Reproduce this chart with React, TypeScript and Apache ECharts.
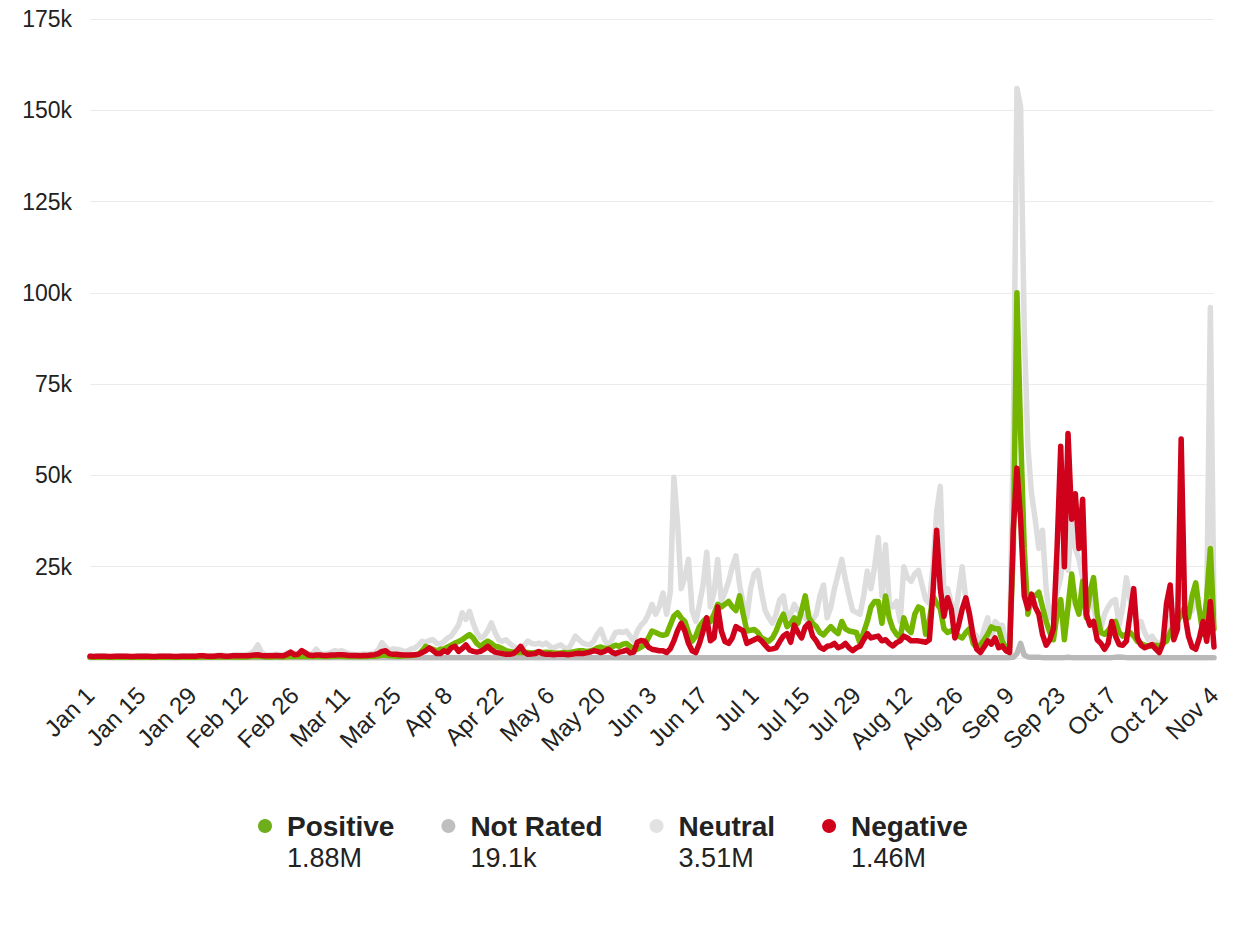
import React, { useEffect, useRef } from "react";
import * as echarts from "echarts";

const FONT = '"Liberation Sans", Arial, Helvetica, sans-serif';

const seriesNames = ["Positive", "Not Rated", "Neutral", "Negative"];
const lineColors = ["#74b500", "#b9b9b9", "#dddddd", "#d0021b"];
const legendDotColors = ["#6dae1a", "#bfbfbf", "#e2e2e2", "#d0021b"];
const legendTotals = ["1.88M", "19.1k", "3.51M", "1.46M"];
const drawOrder = [4, 3, 2, 5];

const monthNames = ["Jan", "Feb", "Mar", "Apr", "May", "Jun", "Jul", "Aug", "Sep", "Oct", "Nov", "Dec"];
const startYear = 2024;
const labelStep = 14;
const yMax = 175;
const yStep = 25;

// values in thousands, one row = 14 days
const positive = [
  0.2, 0.2, 0.2, 0.2, 0.2, 0.2, 0.2, 0.2, 0.2, 0.2, 0.2, 0.2, 0.2, 0.2,
  0.2, 0.2, 0.2, 0.2, 0.2, 0.2, 0.2, 0.3, 0.2, 0.2, 0.2, 0.2, 0.3, 0.2,
  0.3, 0.2, 0.3, 0.3, 0.3, 0.2, 0.3, 0.3, 0.3, 0.3, 0.3, 0.3, 0.3, 0.3,
  0.3, 0.3, 0.4, 0.4, 0.5, 0.4, 0.3, 0.3, 0.3, 0.4, 0.3, 0.3, 0.4, 0.5,
  0.4, 0.4, 0.5, 0.4, 0.4, 0.4, 0.5, 0.4, 0.4, 0.4, 0.4, 0.5, 0.5, 0.5,
  0.4, 0.4, 0.4, 0.4, 0.4, 0.4, 0.4, 0.5, 0.5, 0.6, 0.8, 0.8, 0.6, 0.6,
  0.5, 0.5, 0.6, 0.6, 0.7, 0.8, 1.0, 2.0, 3.2, 2.6, 2.4, 2.0, 2.4, 2.5,
  3.0, 3.5, 4.1, 4.5, 5.0, 5.8, 6.4, 5.5, 4.0, 3.2, 4.0, 4.6, 4.0, 3.2,
  3.0, 2.6, 2.0, 1.8, 1.6, 1.5, 1.5, 1.6, 1.5, 1.4, 1.5, 1.6, 1.5, 1.6,
  1.5, 1.4, 1.3, 1.4, 1.5, 1.4, 1.6, 1.8, 2.0, 2.0, 1.8, 1.9, 2.2, 2.8,
  3.0, 2.6, 2.6, 3.0, 3.5, 3.2, 3.8, 4.0, 3.2, 2.6, 2.4, 3.0, 3.6, 5.5,
  7.4, 7.0, 6.5, 6.2, 6.5, 9.0, 11.5, 12.4, 11.0, 10.0, 7.0, 4.6, 6.0, 8.6,
  10, 11, 10, 12, 14.7, 14, 14.7, 15.5, 14, 13, 17, 12, 7.4, 7.6,
  7.8, 7, 5.5, 5, 4.6, 5.5, 7.4, 10, 12, 8.6, 9.5, 11, 9.5, 13,
  17, 11, 9.5, 8.6, 7, 6.3, 7.5, 8.6, 7.5, 6.7, 10, 8, 7.4, 7.2,
  7, 4, 7, 10, 14, 15.5, 15.5, 9.5, 17, 11, 8, 6.5, 5.5, 11,
  8, 7, 12, 14, 13.5, 6.5, 10, 17, 15, 13.5, 8, 7, 7.5, 7.3,
  6, 5.5, 7, 8, 4, 2.8, 3.6, 5, 6.5, 8.5, 8, 8, 4.5, 2.8,
  3, 30, 100, 62, 30, 12, 17, 17, 18, 14, 10, 7, 5, 12,
  16, 5, 14, 23, 15, 12, 21, 11, 18, 22, 12, 7, 6.5, 7.5,
  9, 10, 7, 6, 6.5, 7, 6, 4.5, 4, 3.5, 3.3, 3.3, 3.5, 3.3,
  4, 4.6, 7, 9, 10, 12, 14, 11, 17, 20.6, 13, 6.5, 16.5, 30,
  8,
];

const notRated = [
  0.05, 0.05, 0.05, 0.05, 0.05, 0.05, 0.05, 0.05, 0.05, 0.05, 0.05, 0.05, 0.05, 0.05,
  0.05, 0.05, 0.05, 0.05, 0.05, 0.05, 0.05, 0.05, 0.05, 0.05, 0.05, 0.05, 0.05, 0.05,
  0.05, 0.05, 0.05, 0.05, 0.05, 0.05, 0.05, 0.05, 0.05, 0.05, 0.05, 0.05, 0.05, 0.05,
  0.05, 0.05, 0.05, 0.05, 0.05, 0.05, 0.05, 0.05, 0.05, 0.05, 0.05, 0.05, 0.05, 0.05,
  0.05, 0.05, 0.05, 0.05, 0.05, 0.05, 0.05, 0.05, 0.05, 0.05, 0.05, 0.05, 0.05, 0.05,
  0.05, 0.05, 0.05, 0.05, 0.05, 0.05, 0.05, 0.05, 0.05, 0.05, 0.05, 0.05, 0.05, 0.05,
  0.05, 0.05, 0.05, 0.05, 0.05, 0.05, 0.05, 0.05, 0.05, 0.05, 0.05, 0.05, 0.05, 0.05,
  0.05, 0.05, 0.05, 0.05, 0.05, 0.05, 0.05, 0.05, 0.05, 0.05, 0.05, 0.05, 0.05, 0.05,
  0.05, 0.05, 0.05, 0.05, 0.05, 0.05, 0.05, 0.05, 0.05, 0.05, 0.05, 0.05, 0.05, 0.05,
  0.05, 0.05, 0.05, 0.05, 0.05, 0.05, 0.05, 0.05, 0.05, 0.05, 0.05, 0.05, 0.05, 0.05,
  0.05, 0.05, 0.05, 0.05, 0.05, 0.05, 0.05, 0.05, 0.05, 0.05, 0.05, 0.05, 0.05, 0.05,
  0.06, 0.06, 0.06, 0.06, 0.06, 0.06, 0.08, 0.08, 0.06, 0.06, 0.06, 0.06, 0.06, 0.06,
  0.06, 0.06, 0.06, 0.06, 0.08, 0.06, 0.06, 0.06, 0.06, 0.06, 0.06, 0.06, 0.06, 0.06,
  0.06, 0.06, 0.06, 0.06, 0.06, 0.06, 0.06, 0.06, 0.06, 0.06, 0.06, 0.06, 0.06, 0.06,
  0.06, 0.06, 0.06, 0.06, 0.06, 0.06, 0.06, 0.06, 0.06, 0.06, 0.06, 0.06, 0.06, 0.06,
  0.06, 0.06, 0.06, 0.06, 0.06, 0.08, 0.08, 0.06, 0.06, 0.06, 0.06, 0.06, 0.06, 0.06,
  0.06, 0.06, 0.06, 0.06, 0.06, 0.06, 0.06, 0.08, 0.1, 0.08, 0.06, 0.06, 0.06, 0.06,
  0.06, 0.06, 0.06, 0.06, 0.06, 0.06, 0.06, 0.06, 0.06, 0.06, 0.06, 0.06, 0.06, 0.06,
  0.1, 0.2, 1.2, 4.0, 0.8, 0.3, 0.2, 0.2, 0.2, 0.1, 0.1, 0.1, 0.1, 0.1,
  0.1, 0.1, 0.2, 0.1, 0.1, 0.1, 0.1, 0.1, 0.1, 0.1, 0.1, 0.1, 0.1, 0.1,
  0.1, 0.2, 0.3, 0.2, 0.1, 0.1, 0.1, 0.1, 0.1, 0.1, 0.1, 0.1, 0.1, 0.1,
  0.1, 0.1, 0.1, 0.1, 0.1, 0.1, 0.1, 0.1, 0.1, 0.1, 0.1, 0.1, 0.1, 0.1,
  0.1,
];

const neutral = [
  0.5, 0.4, 0.5, 0.6, 0.5, 0.4, 0.4, 0.5, 0.6, 0.5, 0.5, 0.4, 0.4, 0.5,
  0.5, 0.6, 0.5, 0.4, 0.4, 0.5, 0.6, 0.5, 0.5, 0.4, 0.5, 0.5, 0.6, 0.5,
  0.6, 0.5, 0.6, 0.7, 0.6, 0.5, 0.6, 0.7, 0.8, 0.7, 0.6, 0.7, 0.9, 0.8,
  0.8, 1.0, 1.2, 2.0, 3.6, 1.5, 0.9, 0.8, 0.9, 1.0, 0.9, 0.8, 1.4, 1.6,
  1.4, 1.2, 2.0, 1.5, 1.0, 1.2, 2.4, 1.3, 1.0, 1.2, 1.5, 2.0, 1.8, 2.0,
  1.5, 1.2, 1.0, 0.9, 1.0, 1.1, 1.0, 1.2, 1.4, 2.2, 4.2, 3.0, 2.0, 2.5,
  2.4, 2.2, 1.8, 1.9, 2.5, 2.7, 3.5, 4.6, 4.2, 4.8, 5.0, 4.0, 3.8, 4.5,
  5.5, 6.0, 7.5, 9.0, 12.4, 10.6, 12.8, 9.5, 7.0, 5.5, 6.0, 7.5, 9.6, 7.0,
  5.0, 4.6, 5.0, 4.0, 3.2, 2.6, 2.4, 3.5, 4.6, 4.0, 3.8, 4.1, 3.6, 4.1,
  3.2, 2.7, 3.2, 3.6, 2.8, 2.4, 4.0, 6.0, 5.0, 4.1, 3.8, 3.6, 4.5, 6.5,
  7.8, 5.0, 3.2, 5.0, 7.0, 7.2, 7.0, 7.4, 6.0, 4.6, 7.4, 9.0, 10.0, 12.0,
  14.7, 12, 14, 17.8, 12, 18, 49.5, 37, 19, 22, 27, 13, 10, 14.7,
  20, 29, 14, 18, 27, 15.5, 18, 21, 25, 28, 20, 15, 11, 19,
  23, 24, 18, 13, 11, 9.5, 12, 16, 17, 11, 12, 14.7, 13, 12,
  11, 9.5, 10.5, 12, 17, 20, 11, 14, 19, 23, 27, 21.5, 17, 13,
  12.5, 12, 17, 23.8, 19, 25, 33, 17, 31, 15, 14, 15.5, 10, 25,
  22, 21, 23, 24, 20, 16, 15, 25, 40, 47, 17, 19, 15, 11,
  18, 25, 16, 12, 7, 6, 3.5, 8, 11, 5, 10, 9, 9, 3.5,
  4, 60, 156, 151, 90, 58, 45, 38, 30, 35, 19, 11, 13.5, 18,
  22, 33, 24, 38, 30, 27, 22, 19, 17, 14, 9, 8, 12, 14,
  15.5, 16, 9, 14, 22, 16, 13, 8, 10, 7, 5, 6, 4.5, 3.5,
  5, 7, 11, 13, 13, 12, 11, 12, 13, 16.5, 13, 12, 14, 96,
  12,
];

const negative = [
  0.5, 0.4, 0.5, 0.5, 0.5, 0.4, 0.4, 0.5, 0.5, 0.5, 0.5, 0.4, 0.4, 0.5,
  0.5, 0.5, 0.5, 0.4, 0.4, 0.5, 0.5, 0.5, 0.5, 0.4, 0.4, 0.5, 0.5, 0.5,
  0.5, 0.5, 0.6, 0.6, 0.5, 0.5, 0.5, 0.6, 0.6, 0.5, 0.5, 0.6, 0.6, 0.6,
  0.6, 0.6, 0.7, 0.8, 0.9, 0.7, 0.6, 0.6, 0.6, 0.7, 0.6, 0.6, 1.0, 1.6,
  0.9, 1.0, 2.0, 1.4, 0.8, 0.7, 0.8, 0.8, 0.7, 0.7, 0.8, 0.8, 0.9, 0.9,
  0.8, 0.7, 0.7, 0.7, 0.6, 0.7, 0.7, 0.8, 0.9, 1.2, 1.8, 2.0, 1.2, 1.0,
  1.0, 0.9, 0.8, 0.8, 0.8, 0.9, 1.0, 1.5, 2.0, 2.8, 2.0, 1.2, 1.2, 2.0,
  1.6, 2.8, 3.2, 1.8, 2.6, 3.6, 2.2, 1.8, 1.6, 1.8, 2.4, 3.2, 2.2, 1.6,
  1.4, 1.2, 1.0, 1.0, 1.2, 2.0, 3.2, 1.6, 1.0, 1.1, 1.2, 1.8, 1.2, 1.0,
  1.0, 0.9, 1.0, 1.1, 1.0, 0.9, 1.0, 1.2, 1.3, 1.2, 1.4, 1.6, 2.0, 1.8,
  1.5, 1.8, 2.4, 1.6, 1.2, 1.6, 1.8, 2.2, 1.4, 1.6, 4.3, 4.8, 4.6, 3.0,
  2.4, 2.2, 2.0, 2.0, 1.5, 2.5, 4.7, 7.5, 9.5, 7.4, 4.0, 2.0, 1.5, 4.0,
  7.4, 11, 4.7, 5.5, 14, 7.4, 4.5, 4.0, 5.5, 8.6, 8.0, 7.4, 4.0, 4.5,
  5.0, 5.5, 4.7, 3.5, 2.4, 2.5, 2.8, 4.5, 6.0, 6.7, 4.3, 9.0, 7.0, 5.5,
  8.5, 9.5, 6.0, 4.7, 3.0, 2.4, 3.2, 3.4, 4.0, 2.8, 3.2, 4.0, 2.8, 2.0,
  2.8, 3.2, 5.0, 6.7, 5.5, 5.8, 6.0, 4.7, 5.0, 4.0, 3.3, 4.2, 4.7, 6.0,
  5.5, 4.7, 4.7, 4.7, 4.5, 4.3, 5, 18, 35, 19, 11.4, 16.5, 13.4, 5.5,
  9, 13.4, 16.5, 12, 6, 2.4, 1.5, 3, 4.7, 3.8, 5.5, 2.8, 3.3, 2.0,
  1.5, 35, 52, 38, 17, 13.5, 17.5, 14, 12, 6.5, 3.5, 5, 8, 30,
  58, 25, 61.5, 38, 45, 30, 43.5, 12, 9, 10, 5, 4, 2.4, 4,
  10, 6, 3.7, 3.5, 4.6, 12, 19, 5.5, 3.5, 2.8, 3.2, 3.7, 2.5, 1.5,
  4, 15, 20, 5, 8, 60, 12, 6, 3, 2.4, 5.5, 10, 4.6, 15.5,
  3,
];

const seriesValues = [positive, notRated, neutral, negative];

const categories: string[] = positive.map((_, i) => {
  const d = new Date(Date.UTC(startYear, 0, 1 + i));
  return `${monthNames[d.getUTCMonth()]} ${d.getUTCDate()}`;
});

export default function App() {
  const ref = useRef<HTMLDivElement>(null);

  useEffect(() => {
    if (!ref.current) return;
    const chart = echarts.init(ref.current, undefined, { renderer: "svg" });
    const option: any = {
      animation: false,
      backgroundColor: "#ffffff",
      textStyle: { fontFamily: FONT },
      grid: { left: 90, right: 22, top: 19, bottom: 936 - 658 },
      xAxis: {
        type: "category",
        data: categories,
        boundaryGap: false,
        axisLine: { show: false },
        axisTick: { show: false },
        splitLine: { show: false },
        axisLabel: {
          interval: labelStep - 1,
          rotate: 45,
          fontSize: 24,
          color: "#222",
          fontFamily: FONT,
          margin: 33,
        },
      },
      yAxis: {
        type: "value",
        min: 0,
        max: yMax,
        interval: yStep,
        axisLine: { show: false },
        axisTick: { show: false },
        splitLine: { lineStyle: { color: "#ebebeb", width: 1 } },
        axisLabel: {
          fontSize: 23,
          color: "#222",
          fontFamily: FONT,
          margin: 18,
          formatter: (v: number) => (v === 0 ? "" : `${v}k`),
        },
      },
      legend: {
        data: seriesNames,
        top: 789,
        left: 258,
        padding: 0,
        icon: "circle",
        itemWidth: 34,
        itemHeight: 14,
        itemGap: 47,
        selectedMode: false,
        itemStyle: { borderWidth: 0 },
        formatter: (name: string) => {
          const i = seriesNames.indexOf(name);
          return `{s| }\n{n|${name}}\n{v|${legendTotals[i]}}`;
        },
        textStyle: {
          fontFamily: FONT,
          rich: {
            s: { fontSize: 10, lineHeight: 32 },
            n: { fontSize: 28, fontWeight: "bold", color: "#222", lineHeight: 32, fontFamily: FONT },
            v: { fontSize: 27, color: "#222", lineHeight: 32, fontFamily: FONT },
          },
        },
      },
      series: seriesNames.map((name, i) => ({
        name,
        type: "line",
        data: seriesValues[i],
        symbol: "none",
        showSymbol: false,
        z: drawOrder[i],
        emphasis: { disabled: true },
        itemStyle: { color: legendDotColors[i], borderWidth: 0 },
        lineStyle: { color: lineColors[i], width: 5.5, join: "round", cap: "round" },
      })),
    };
    chart.setOption(option);
    return () => chart.dispose();
  }, []);

  return (
    <div
      ref={ref}
      style={{ position: "fixed", left: 0, top: 0, width: 1236, height: 936, background: "#fff" }}
    />
  );
}
